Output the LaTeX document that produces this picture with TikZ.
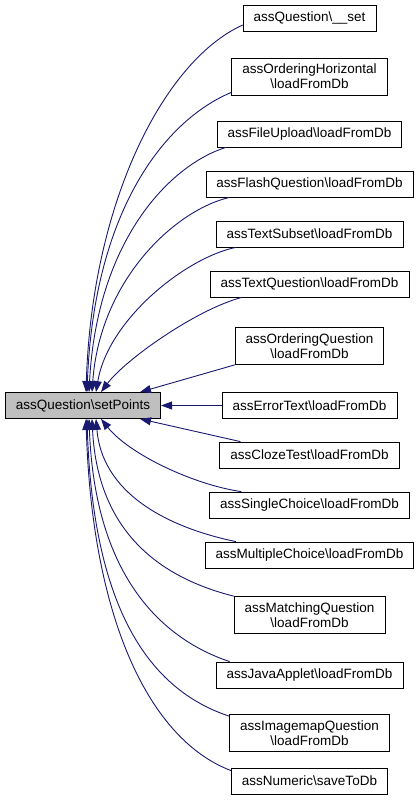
\documentclass[tikz,border=0pt]{standalone}
\usepackage{fontspec}
\setmainfont{Liberation Sans}
\usetikzlibrary{arrows.meta}
\definecolor{edgeblue}{HTML}{191970}
\definecolor{mainfill}{HTML}{BFBFBF}

\begin{document}
\begin{tikzpicture}[
    x=1pt, y=-1pt,
    >={Triangle[length=11pt,width=8pt]},
    fnbox/.style={draw, rectangle, line width=0.8pt, align=center, inner xsep=10.5pt, inner ysep=6pt,
        minimum height=26pt, font=\fontsize{13.5pt}{15pt}\selectfont},
    call/.style={<-, draw=edgeblue, fill=none, line width=0.9pt}
]
    \useasboundingbox (0,0) rectangle (417,811);

    % Function of interest
    \node[fnbox, fill=mainfill] (setpoints) at (83,405.5) {assQuestion\textbackslash setPoints};

    % Callers
    \node[fnbox] (set) at (309.5,18) {assQuestion\textbackslash\_\_set};
    \node[fnbox] (ordhoriz) at (309.5,76.5) {assOrderingHorizontal\\\textbackslash loadFromDb};
    \node[fnbox] (fileup) at (309.5,134) {assFileUpload\textbackslash loadFromDb};
    \node[fnbox] (flash) at (309.5,184) {assFlashQuestion\textbackslash loadFromDb};
    \node[fnbox] (textsubset) at (309.5,234) {assTextSubset\textbackslash loadFromDb};
    \node[fnbox] (textq) at (309.5,284) {assTextQuestion\textbackslash loadFromDb};
    \node[fnbox] (ordq) at (309.5,346) {assOrderingQuestion\\\textbackslash loadFromDb};
    \node[fnbox] (errtext) at (309.5,405.5) {assErrorText\textbackslash loadFromDb};
    \node[fnbox] (cloze) at (309.5,455) {assClozeTest\textbackslash loadFromDb};
    \node[fnbox] (single) at (309.5,505) {assSingleChoice\textbackslash loadFromDb};
    \node[fnbox] (multiple) at (309.5,555) {assMultipleChoice\textbackslash loadFromDb};
    \node[fnbox] (matching) at (309.5,615) {assMatchingQuestion\\\textbackslash loadFromDb};
    \node[fnbox] (java) at (309.5,675) {assJavaApplet\textbackslash loadFromDb};
    \node[fnbox] (imagemap) at (309.5,733) {assImagemapQuestion\\\textbackslash loadFromDb};
    \node[fnbox] (numeric) at (309.5,781) {assNumeric\textbackslash saveToDb};

    % Edges above
    \draw[call] ([xshift=3pt]setpoints.north) .. controls (92,200) and (165,60) .. ([yshift=-7pt]set.west);
    \draw[call] ([xshift=4pt]setpoints.north) .. controls (94,210) and (165,120) .. ([yshift=3pt]ordhoriz.south west);
    \draw[call] ([xshift=6pt]setpoints.north) .. controls (97,240) and (170,165) .. ([xshift=9pt]fileup.south west);
    \draw[call] ([xshift=9pt]setpoints.north) .. controls (100,280) and (175,210) .. ([xshift=24pt]flash.south west);
    \draw[call] ([xshift=13pt]setpoints.north) .. controls (108,320) and (185,258) .. ([xshift=20pt]textsubset.south west);
    \draw[call] ([xshift=18pt]setpoints.north) .. controls (125,360) and (195,310) .. ([xshift=32pt]textq.south west);
    \draw[call] ([xshift=57pt]setpoints.north) -- (ordq.south west);

    % Straight edge
    \draw[call] (setpoints.east) -- (errtext.west);

    % Edges below
    \draw[call] ([xshift=57pt]setpoints.south) -- ([xshift=21pt]cloze.north west);
    \draw[call] ([xshift=18pt]setpoints.south) .. controls (130,455) and (195,485) .. ([xshift=32pt]single.north west);
    \draw[call] ([xshift=13pt]setpoints.south) .. controls (103,500) and (180,530) .. ([xshift=31pt]multiple.north west);
    \draw[call] ([xshift=9pt]setpoints.south) .. controls (98,540) and (170,580) .. (matching.north west);
    \draw[call] ([xshift=6pt]setpoints.south) .. controls (95,580) and (165,640) .. ([xshift=14pt]java.north west);
    \draw[call] ([xshift=4pt]setpoints.south) .. controls (93,610) and (150,690) .. ([yshift=-2pt]imagemap.north west);
    \draw[call] ([xshift=3pt]setpoints.south) .. controls (92,620) and (150,740) .. ([yshift=-3pt]numeric.north west);

\end{tikzpicture}
\end{document}
